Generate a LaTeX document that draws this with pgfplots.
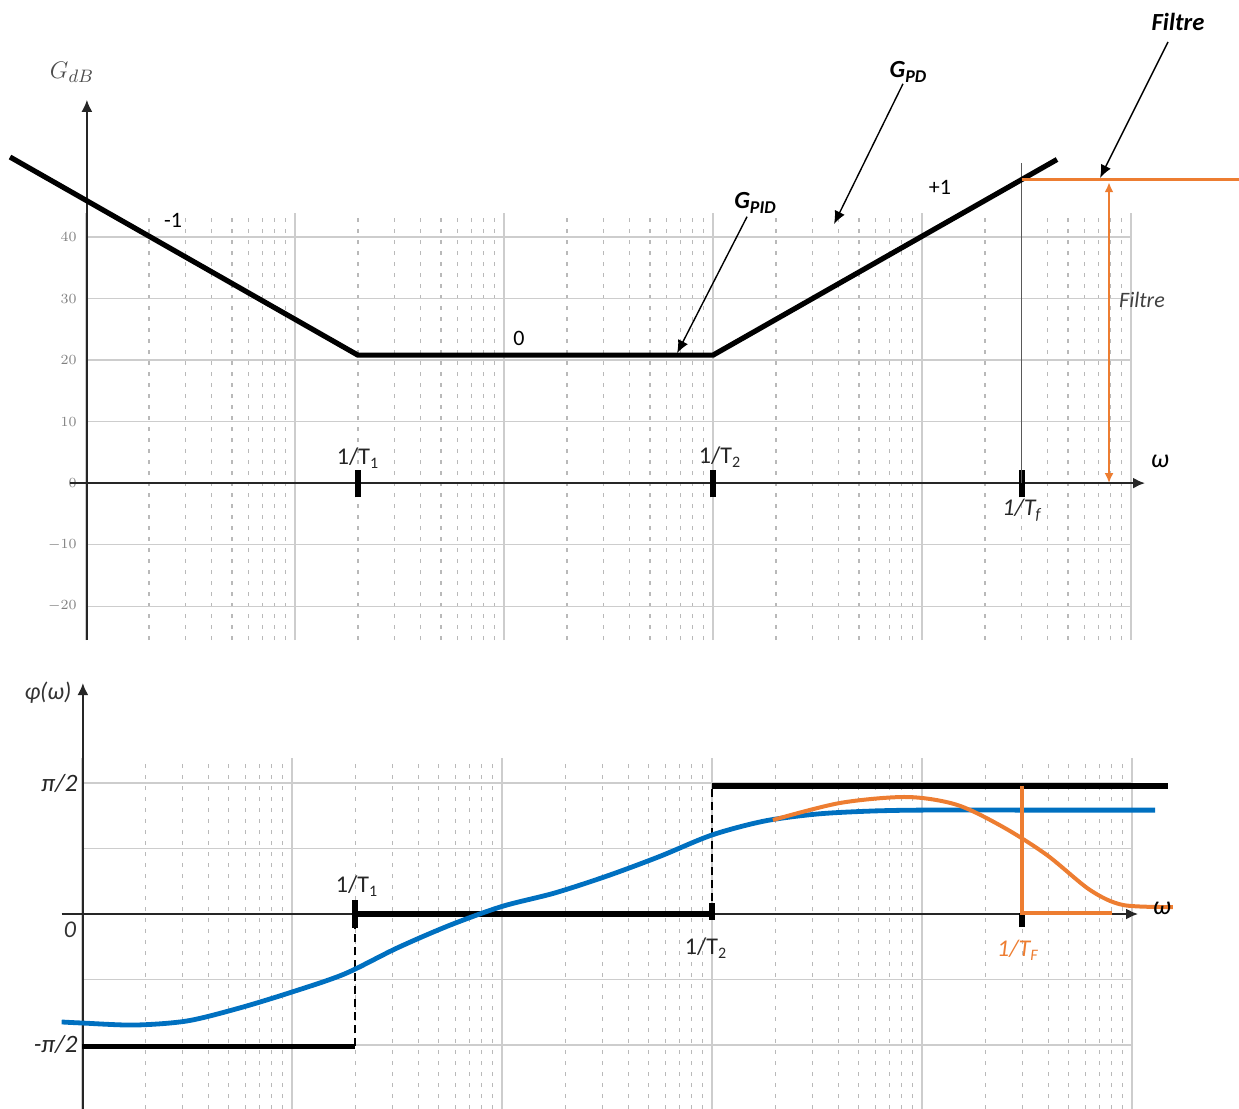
\documentclass[border=0pt]{standalone}
\usepackage{pgfplots}
\pgfplotsset{compat=1.18}
\usepackage{fontspec}
\setmainfont{Carlito}
\usetikzlibrary{arrows.meta}

\definecolor{filtreorange}{RGB}{237,125,49}
\definecolor{pidblue}{RGB}{0,112,192}
\definecolor{gridmajor}{RGB}{205,205,205}
\definecolor{gridminor}{RGB}{185,185,185}

\tikzset{
  axisarrow/.style={black!85, line width=1pt, -{Latex[length=6pt,width=5.5pt]}},
  calloutarrow/.style={black, line width=0.7pt, -{Latex[length=6.5pt,width=5.5pt]}},
}

\newcommand{\fs}[1]{\fontsize{#1}{#1}\selectfont}

\begin{document}
\begin{tikzpicture}[x=0.5pt,y=0.5pt]
\useasboundingbox (0,0) rectangle (1239,-1109);

% ---------------- Gain (dB) ----------------
\begin{axis}[
  anchor=south west, scale only axis,
  at={(43pt,-320pt)}, width=522.5pt, height=213.5pt,
  xmode=log, xmin=1, xmax=1e5,
  ymin=-25.5, ymax=43.9,
  axis line style={draw=none},
  major tick length=0pt, minor tick length=0pt,
  xtick={1,10,100,1000,10000,100000},
  minor xtick={2,3,4,5,6,7,8,9,20,30,40,50,60,70,80,90,
    200,300,400,500,600,700,800,900,2000,3000,4000,5000,6000,7000,8000,9000,
    20000,30000,40000,50000,60000,70000,80000,90000},
  xticklabels={},
  ytick={-20,-10,...,40},
  yticklabel style={font=\fs{7.5}, text=black!50, anchor=east, inner sep=0pt, xshift=-4.5pt},
  grid=both,
  major grid style={gridmajor, line width=0.6pt},
  minor grid style={gridminor, line width=0.6pt, dash pattern=on 2pt off 3.5pt},
  clip=false,
]
% axes
\draw[axisarrow] (axis cs:0.838,0) -- (axis cs:1.167e5,0);
\draw[axisarrow] (axis cs:1.01,-25.5) -- (axis cs:1.01,62.3);
% break frequencies
\addplot[black, line width=3pt, forget plot] coordinates {(20,-2.3) (20,2.1)};
\addplot[black, line width=3pt, forget plot] coordinates {(1000,-2.3) (1000,2.1)};
\addplot[black, line width=3pt, forget plot] coordinates {(30000,-2.3) (30000,2.1)};
% 1/Tf reference line
\addplot[black!65, line width=0.6pt, forget plot] coordinates {(30000,52) (30000,0)};
% asymptotic gain of the PID
\addplot[black, line width=2.6pt] coordinates {(0.433,53.0) (20,20.8) (1000,20.8) (44260,52.6)};
% filter asymptote
\addplot[filtreorange, line width=1.6pt] coordinates {(30000,49.3) (3.3e5,49.3)};
\draw[filtreorange, line width=1pt, {Latex[length=5pt,width=4.5pt]}-{Latex[length=5pt,width=4.5pt]}]
  (axis cs:78500,48.9) -- (axis cs:78500,0);
% callouts
\draw[calloutarrow] (axis cs:1455,43.3) -- (axis cs:673,21.1);
\draw[calloutarrow] (axis cs:8110,64.9) -- (axis cs:3793,42.1);
\draw[calloutarrow] (axis cs:150300,71.7) -- (axis cs:71100,49.6);
\end{axis}

% labels of the gain diagram
\node[text=black!70] at (72,-72) {\fs{12.5}$G_{dB}$};
\node at (173,-220) {\fs{11}-1};
\node at (519,-338) {\fs{11}0};
\node at (940,-187) {\fs{11}+1};
\node at (755,-203) {\bfseries\itshape\fs{12.3}G\raisebox{-2.5pt}{\fs{9}PID}};
\node at (908,-72) {\bfseries\itshape\fs{12.3}G\raisebox{-2.5pt}{\fs{9}PD}};
\node at (1178,-22) {\bfseries\itshape\fs{12.3}Filtre};
\node[text=black!75] at (1142,-300) {\itshape\fs{11}Filtre};
\node at (1160,-461) {\itshape\fs{13}ω};
\node[text=black!85] at (358,-458) {\fs{12}1/T\textsubscript{1}};
\node[text=black!85] at (720,-457) {\fs{12}1/T\textsubscript{2}};
\node[text=black!85] at (1022,-510) {\itshape\fs{12}1/T\textsubscript{f}};

% ---------------- Phase ----------------
\begin{axis}[
  anchor=south west, scale only axis,
  at={(41pt,-554.5pt)}, width=525pt, height=175.5pt,
  xmode=log, xmin=1, xmax=1e5,
  ymin=-134, ymax=107.2,
  axis line style={draw=none},
  major tick length=0pt, minor tick length=0pt,
  xtick={1,10,100,1000,10000,100000},
  minor xtick={2,3,4,5,6,7,8,9,20,30,40,50,60,70,80,90,
    200,300,400,500,600,700,800,900,2000,3000,4000,5000,6000,7000,8000,9000,
    20000,30000,40000,50000,60000,70000,80000,90000},
  xticklabels={},
  ytick={-90,-45,0,45,90},
  yticklabels={{\itshape -π/2},{},{},{},{\itshape π/2}},
  yticklabel style={font=\fs{12.5}, text=black!85, anchor=east, inner sep=0pt, xshift=-2pt},
  grid=both,
  major grid style={gridmajor, line width=0.6pt},
  minor grid style={gridminor, line width=0.6pt, dash pattern=on 2pt off 3.5pt},
  clip=false,
]
% axes
\draw[axisarrow] (axis cs:0.80,0) -- (axis cs:1.069e5,0);
\draw[axisarrow] (axis cs:1.01,-134) -- (axis cs:1.01,158.7);
% asymptotic phase of the PID
\addplot[black, line width=2.6pt] coordinates {(1,-91) (20,-91)};
\addplot[black, line width=1.2pt, dash pattern=on 4pt off 2.5pt] coordinates {(20,-91) (20,0)};
\addplot[black, line width=2.6pt] coordinates {(20,0) (1000,0)};
\addplot[black, line width=1.2pt, dash pattern=on 4pt off 2.5pt] coordinates {(1000,0) (1000,88)};
\addplot[black, line width=2.6pt] coordinates {(1000,88) (1.48e5,88)};
% break frequencies
\addplot[black, line width=3pt, forget plot] coordinates {(20,-9.6) (20,9.6)};
\addplot[black, line width=3pt, forget plot] coordinates {(1000,-4) (1000,7.6)};
\addplot[black, line width=3pt, forget plot] coordinates {(30000,-9) (30000,0.7)};
% real phase of the PID
\addplot[pidblue, line width=2.4pt, smooth] coordinates {
  (0.80,-74.2) (1,-74.9) (1.778,-76.3) (3.162,-73.5) (5.623,-64.6) (10,-53.6)
  (17.78,-41.2) (31.62,-23.4) (56.23,-7.8) (100,5.2) (177.8,14.4) (316.2,26.1)
  (562.3,39.5) (1000,54.3) (1778,63.9) (3162,68.7) (5623,70.7) (10000,71.4)
  (31620,71.4) (128800,71.4)};
% phase with the filter
\addplot[filtreorange, line width=2pt, smooth] coordinates {
  (1950,64.6) (4070,76.3) (8483,80.4) (14680,75.0) (24300,59.8)
  (39370,40.5) (63100,16.5) (90600,6.2) (156700,4.8)};
\addplot[filtreorange, line width=2pt] coordinates {(30000,88) (30000,1) (80350,1)};
\end{axis}

% labels of the phase diagram
\node[text=black!80] at (48,-693) {\itshape\fs{12}φ(ω)};
\node[text=black!80] at (70,-930) {\itshape\fs{12}0};
\node[text=black!85] at (357,-886) {\fs{12}1/T\textsubscript{1}};
\node[text=black!85] at (706,-948) {\fs{12}1/T\textsubscript{2}};
\node[text=filtreorange] at (1018,-950) {\itshape\fs{12}1/T\textsubscript{F}};
\node at (1162,-908) {\itshape\fs{13}ω};
\end{tikzpicture}
\end{document}
